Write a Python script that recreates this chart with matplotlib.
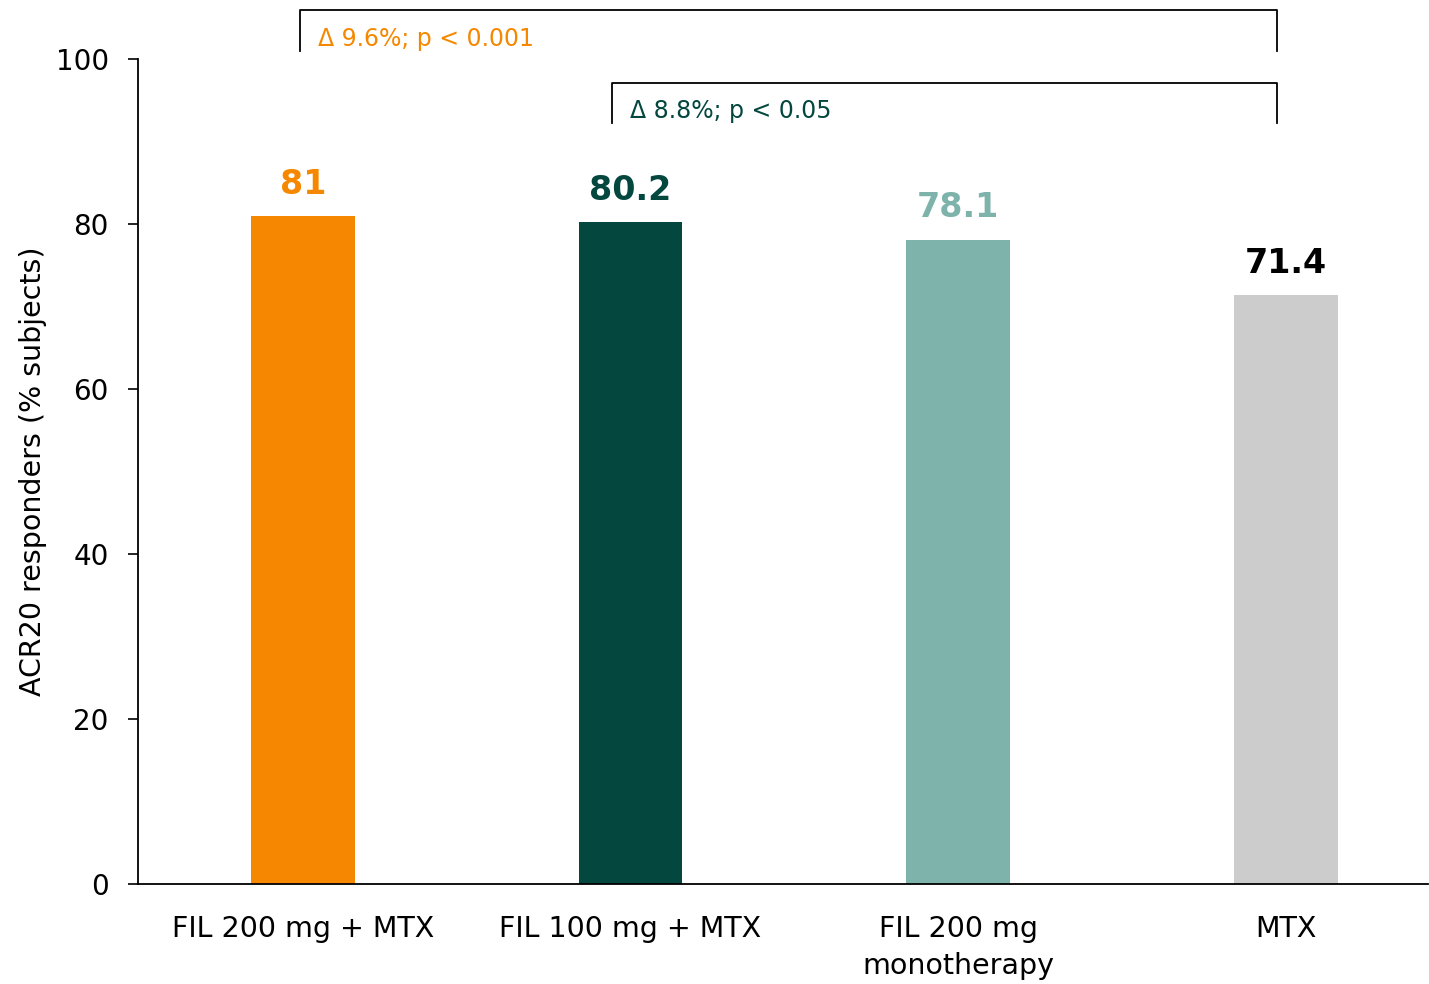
import matplotlib.pyplot as plt

groups = ['FIL 200 mg + MTX', 'FIL 100 mg + MTX', 'FIL 200 mg\nmonotherapy', 'MTX']
responders = [81, 80.2, 78.1, 71.4]
bar_colors = ['#F58800', '#03473F', '#7DB3AA', '#CCCCCC']
label_colors = ['#F58800', '#03473F', '#7DB3AA', '#000000']
yticks = [0, 20, 40, 60, 80, 100]

# comparisons drawn as brackets: (from bar, to bar, text, colour)
comparisons = [
    (0, 3, 'Δ 9.6%; p < 0.001', '#F58800'),
    (1, 3, 'Δ 8.8%; p < 0.05', '#03473F'),
]

plt.rcParams['font.family'] = ['DejaVu Sans']

fig = plt.figure(figsize=(14.29, 9.84), dpi=100)
ax = fig.add_axes([0.0966, 0.1016, 0.9024, 0.8384])

x = list(range(len(groups)))
bars = ax.bar(x, responders, width=0.317, color=bar_colors)

for xi, val, col in zip(x, responders, label_colors):
    ax.annotate(f'{val:g}', (xi, val), xytext=(0, 11), textcoords='offset points',
                ha='center', va='bottom', fontsize=24, fontweight='bold', color=col)

ax.set_xlim(-0.503, 3.433)
ax.set_ylim(0, 100)
ax.set_yticks(yticks)
ax.tick_params(axis='y', labelsize=20, length=7, width=1.2, pad=14)
ax.tick_params(axis='x', length=0, labelsize=20.5, pad=22)
ax.set_xticks(x)
ax.set_xticklabels(groups, linespacing=1.45)
ax.set_ylabel('ACR20 responders (% subjects)', fontsize=20.5, labelpad=6)

for s in ['top', 'right']:
    ax.spines[s].set_visible(False)
for s in ['left', 'bottom']:
    ax.spines[s].set_linewidth(1.3)

# significance brackets above the bars
bracket_y = [105.9, 97.1]
bracket_x = [(-0.01, 2.973), (0.945, 2.973)]
for (i, j, txt, col), top, (x0, x1) in zip(comparisons, bracket_y, bracket_x):
    ax.plot([x0, x0, x1, x1], [top - 4.9, top, top, top - 4.9], color='black',
            lw=1.3, clip_on=False)
    ax.text(x0 + 0.055, top - 2.0, txt, color=col, fontsize=17, ha='left', va='top',
            clip_on=False)

fig.savefig('out.png', dpi=100)
